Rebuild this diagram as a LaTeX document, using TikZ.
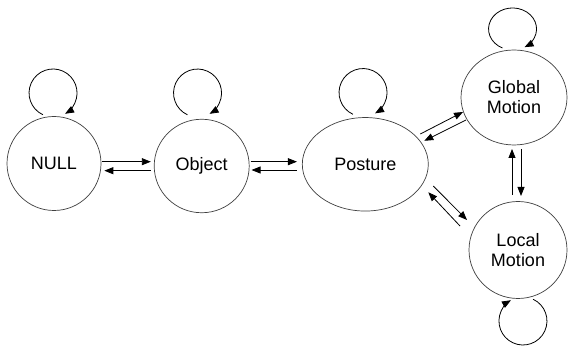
\documentclass[tikz,border=0pt]{standalone}
\usepackage{fontspec}
\setmainfont{Liberation Sans}
\usetikzlibrary{arrows.meta,shapes.geometric,calc}
\begin{document}
\begin{tikzpicture}[x=1pt,y=1pt,
  state/.style={ellipse,draw=black!75,line width=0.7pt,inner sep=0pt,
    font=\fontsize{18}{20}\selectfont,align=center},
  arr/.style={-{Triangle[length=9pt,width=7pt]},line width=0.8pt,black},
]
\useasboundingbox (0,0) rectangle (569,347);
\fill[white] (0,0) rectangle (569,347);
\node[state,minimum width=94pt,minimum height=94pt] (null) at (54,183.5) {NULL};
\node[state,minimum width=95pt,minimum height=93.5pt] (obj) at (201.7,181) {Object};
\node[state,minimum width=126pt,minimum height=93.5pt] (post) at (365.3,182.7) {Posture};
\node[state,minimum width=106pt,minimum height=95pt] (glob) at (514,249.5) {Global\\Motion};
\node[state,minimum width=98pt,minimum height=97pt] (loc) at (518,97) {Local\\Motion};
% self loops
\draw[arr] ($(null)+(-11.1,48.75)$) arc[start angle=245,end angle=-60,radius=24];
\draw[arr] ($(obj)+(-14.3,51.2)$) arc[start angle=245,end angle=-60,radius=24];
\draw[arr] ($(post)+(-12.4,50)$) arc[start angle=245,end angle=-60,radius=24];
\draw[arr] ($(glob)+(-11.6,49.5)$) arc[start angle=245,end angle=-60,x radius=24,y radius=21];
\draw[arr] ($(loc)+(15.1,-49.25)$) arc[start angle=65,end angle=-240,radius=24];
% NULL <-> Object
\draw[arr] ($(null.east)+(1,1.8)$) -- ($(obj.west)+(-3,4.3)$);
\draw[arr] ($(obj.west)+(-3,-4.7)$) -- ($(null.east)+(3,-7.2)$);
% Object <-> Posture
\draw[arr] ($(obj.east)+(1,4.3)$) -- ($(post.west)+(-5,2.6)$);
\draw[arr] ($(post.west)+(-5,-5.7)$) -- ($(obj.east)+(2,-4)$);
% Posture <-> Global
\draw[arr] ($(post)+(55,30.3)$) -- ($(glob)+(-51,-14.5)$);
\draw[arr] ($(glob)+(-48,-22.5)$) -- ($(post)+(59,23.5)$);
% Posture <-> Local
\draw[arr] ($(post)+(68,-21.7)$) -- ($(loc)+(-51,30)$);
\draw[arr] ($(loc)+(-58,24)$) -- ($(post)+(63,-28)$);
% Global <-> Local
\draw[arr] ($(loc)+(-6,55)$) -- ($(glob)+(-2,-51.5)$);
\draw[arr] ($(glob)+(7,-51.5)$) -- ($(loc)+(3,54)$);
\end{tikzpicture}
\end{document}
